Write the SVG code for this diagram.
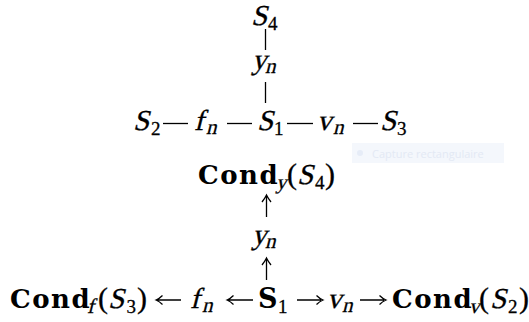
<svg xmlns="http://www.w3.org/2000/svg" width="529" height="322" viewBox="0 0 529 322">
<style>
text{font-family:"Liberation Serif","Times New Roman",serif;fill:#000;font-size:29px;stroke:#000;stroke-width:0.3}
.p{font-size:30px}
.b{font-family:"DejaVu Serif","Liberation Serif",serif;font-weight:bold;font-size:26px;letter-spacing:1.5px;stroke:none}
.bs{font-family:"DejaVu Serif","Liberation Serif",serif;font-weight:bold;font-size:27px;stroke:none}
.s{font-size:19px}
.si{font-size:21px}
.c line,.c path{stroke:#000;stroke-width:1.3;fill:none}
</style>
<rect width="529" height="322" fill="#fff"/>
<g id="tooltip">
<rect x="352" y="143" width="152" height="20" fill="#f4f7fc"/>
<circle cx="360" cy="153" r="3" fill="#e6ecf7"/>
<text x="372" y="158" style="font-family:'Open Sans',sans-serif;font-size:11px;fill:#e3e9f4;stroke:none">Capture rectangulaire</text>
</g>
<g class="c" id="connectors">
<line x1="265.5" y1="29" x2="265.5" y2="50"/>
<line x1="265.5" y1="82" x2="265.5" y2="103"/>
<line x1="163" y1="123.5" x2="188" y2="123.5"/>
<line x1="227" y1="123.5" x2="252" y2="123.5"/>
<line x1="287" y1="123.5" x2="313" y2="123.5"/>
<line x1="353" y1="123.5" x2="378" y2="123.5"/>
<path d="M266.5 217V196M262 202Q264.5 199 266.5 195Q268.5 199 271 202"/>
<path d="M266.5 280V259M262 265Q264.5 262 266.5 258Q268.5 262 271 265"/>
<path d="M157 300H181M162.5 295.5Q159.5 298.5 156 300Q159.5 301.5 162.5 304.5"/>
<path d="M228 300H253M233.5 295.5Q230.5 298.5 227 300Q230.5 301.5 233.5 304.5"/>
<path d="M297 300H321M316.5 295.5Q319.5 298.5 323 300Q319.5 301.5 316.5 304.5"/>
<path d="M360 300H384M379.5 295.5Q382.5 298.5 386 300Q382.5 301.5 379.5 304.5"/>
</g>
<g id="S4"><text transform="translate(251,25) skewX(-14)">S</text><text class="s" x="268" y="30">4</text></g>
<g id="yn1"><text transform="translate(252,69) skewX(-14)">y</text><text class="si" transform="translate(265,73) skewX(-14)">n</text></g>
<g id="S2"><text transform="translate(133,130) skewX(-14)">S</text><text class="s" x="151" y="135">2</text></g>
<g id="fn1"><text transform="translate(194,130) skewX(-14)">f</text><text class="si" transform="translate(206,134) skewX(-14)">n</text></g>
<g id="S1"><text transform="translate(257,130) skewX(-14)">S</text><text class="s" x="274" y="135">1</text></g>
<g id="vn1"><text transform="translate(317,130) skewX(-14)">v</text><text class="si" transform="translate(333,134) skewX(-14)">n</text></g>
<g id="S3"><text transform="translate(380,130) skewX(-14)">S</text><text class="s" x="397" y="135">3</text></g>
<g id="condy"><text class="b" x="198" y="184">Cond</text><text class="si" transform="translate(276,188.5) skewX(-14)">y</text><text class="p" x="287" y="184">(</text><text transform="translate(297,184) skewX(-14)">S</text><text class="s" x="315" y="188.5">4</text><text class="p" x="325" y="184">)</text></g>
<g id="yn2"><text transform="translate(252,244) skewX(-14)">y</text><text class="si" transform="translate(265,248) skewX(-14)">n</text></g>
<g id="condf"><text class="b" x="10" y="308">Cond</text><text class="si" transform="translate(87,312.5) skewX(-14)">f</text><text class="p" x="98" y="308">(</text><text transform="translate(108,308) skewX(-14)">S</text><text class="s" x="126.5" y="312.5">3</text><text class="p" x="137" y="308">)</text></g>
<g id="fn2"><text transform="translate(190,308) skewX(-14)">f</text><text class="si" transform="translate(202,312) skewX(-14)">n</text></g>
<g id="S1b"><text class="bs" x="258" y="308">S</text><text class="s" x="278" y="312.5">1</text></g>
<g id="vn2"><text transform="translate(327,308) skewX(-14)">v</text><text class="si" transform="translate(342,312) skewX(-14)">n</text></g>
<g id="condv"><text class="b" x="392" y="308">Cond</text><text class="si" transform="translate(469,312.5) skewX(-14)">v</text><text class="p" x="479" y="308">(</text><text transform="translate(490,308) skewX(-14)">S</text><text class="s" x="508" y="312.5">2</text><text class="p" x="519" y="308">)</text></g>
</svg>
